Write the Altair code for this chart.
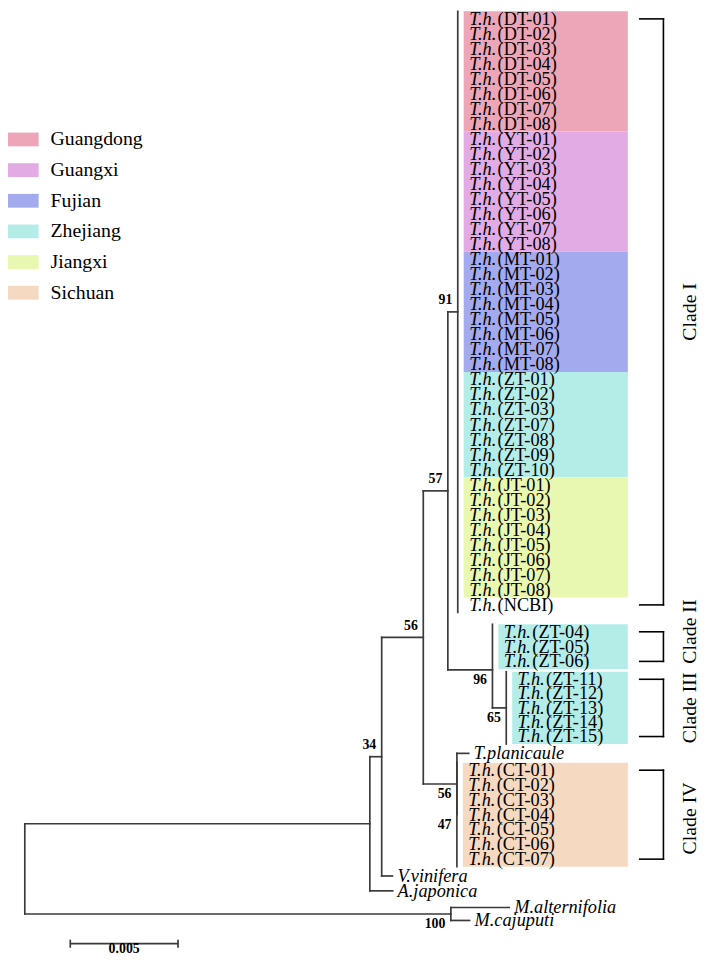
import altair as alt
import pandas as pd

# ---------------- data ----------------
regions = ["Guangdong", "Guangxi", "Fujian", "Zhejiang", "Jiangxi", "Sichuan"]
region_colors = ["#ECA6B8", "#E2ABE4", "#A3AAEE", "#B4ECE8", "#E8F8B0", "#F6D9C1"]

# internal nodes of the tree: parent and branch length (substitutions / site)
node_names = ["root", "N1", "N2", "N3", "N4", "CI", "CII", "CIII", "N5", "CT", "NM"]
node_parents = ["", "root", "N1", "N2", "N3", "N4", "N4", "CII", "N3", "N5", "root"]
node_lengths = [0.0, 0.01601, 0.00055, 0.00193, 0.00114, 0.00046, 0.00207, 0.00064,
                0.00156, 0.0, 0.01977]

# bootstrap support values
boot_nodes = ["CI", "N4", "N3", "N2", "N5", "CT", "CII", "CIII", "NM"]
boot_values = ["91", "57", "56", "34", "56", "47", "96", "65", "100"]
boot_above = [True, True, True, True, False, False, False, False, False]

# leaves (top to bottom)
clade1_codes = (["DT-01", "DT-02", "DT-03", "DT-04", "DT-05", "DT-06", "DT-07", "DT-08"]
                + ["YT-01", "YT-02", "YT-03", "YT-04", "YT-05", "YT-06", "YT-07", "YT-08"]
                + ["MT-01", "MT-02", "MT-03", "MT-04", "MT-05", "MT-06", "MT-07", "MT-08"]
                + ["ZT-01", "ZT-02", "ZT-03", "ZT-07", "ZT-08", "ZT-09", "ZT-10"]
                + ["JT-01", "JT-02", "JT-03", "JT-04", "JT-05", "JT-06", "JT-07", "JT-08"]
                + ["NCBI"])
leaf_names = ([f"T.h.({c})" for c in clade1_codes]
              + ["T.h.(ZT-04)", "T.h.(ZT-05)", "T.h.(ZT-06)"]
              + ["T.h.(ZT-11)", "T.h.(ZT-12)", "T.h.(ZT-13)", "T.h.(ZT-14)", "T.h.(ZT-15)"]
              + ["T.planicaule"]
              + ["T.h.(CT-01)", "T.h.(CT-02)", "T.h.(CT-03)", "T.h.(CT-04)",
                 "T.h.(CT-05)", "T.h.(CT-06)", "T.h.(CT-07)"]
              + ["V.vinifera", "A.japonica", "M.alternifolia", "M.cajuputi"])
leaf_parents = ["CI"] * 40 + ["CII"] * 3 + ["CIII"] * 5 + ["N5"] + ["CT"] * 7 + ["N2", "N1", "NM", "NM"]
leaf_lengths = [0.0] * 48 + [0.00055] + [0.0] * 7 + [0.00050, 0.00106, 0.00271, 0.00087]
leaf_rows = (list(range(40))
             + [40.79, 41.78, 42.76]
             + [43.95, 44.90, 45.86, 46.81, 47.76]
             + [48.88]
             + [50.00, 50.99, 51.97, 52.96, 53.95, 54.93, 55.92]
             + [57.04, 58.03, 59.14, 60.00])

# coloured blocks behind leaf labels
band_regions = ["Guangdong", "Guangxi", "Fujian", "Zhejiang", "Jiangxi", "Zhejiang", "Zhejiang", "Sichuan"]
band_first = ["T.h.(DT-01)", "T.h.(YT-01)", "T.h.(MT-01)", "T.h.(ZT-01)", "T.h.(JT-01)",
              "T.h.(ZT-04)", "T.h.(ZT-11)", "T.h.(CT-01)"]
band_last = ["T.h.(DT-08)", "T.h.(YT-08)", "T.h.(MT-08)", "T.h.(ZT-10)", "T.h.(JT-08)",
             "T.h.(ZT-06)", "T.h.(ZT-15)", "T.h.(CT-07)"]

# clade brackets
clade_labels = ["Clade I", "Clade II", "Clade III", "Clade IV"]
clade_first = ["T.h.(DT-01)", "T.h.(ZT-04)", "T.h.(ZT-11)", "T.h.(CT-01)"]
clade_last = ["T.h.(NCBI)", "T.h.(ZT-06)", "T.h.(ZT-15)", "T.h.(CT-07)"]
clade_label_shift = [0.0, -1.0, 0.0, 0.25]

scale_len = 0.005
scale_text = "0.005"

# ---------------- layout ----------------
W, H = 700, 952
PX = 21800.0      # pixels per substitution unit
ROW = 15.2        # pixels per leaf row
X0 = 17.0         # root position (px)
Y0 = 5.5          # row 0 position (px)
SERIF = "Liberation Serif, Times New Roman, serif"
TREE_COLOR = "#3a3a3a"
LEAF_FS = 18.5


def ux(p):  # plot pixel -> x units
    return (p - X0) / PX


def ur(p):  # plot pixel -> row units
    return (p - Y0) / ROW


xs = alt.Scale(domain=[ux(0), ux(W)], nice=False, zero=False)
ys = alt.Scale(domain=[ur(0), ur(H)], nice=False, zero=False, reverse=True)

# ---------------- tree geometry ----------------
parent = dict(zip(node_names, node_parents))
parent.update(dict(zip(leaf_names, leaf_parents)))
length = dict(zip(node_names, node_lengths))
length.update(dict(zip(leaf_names, leaf_lengths)))
is_leaf = set(leaf_names)

depth = {"root": 0.0}
for n in node_names[1:]:
    depth[n] = depth[parent[n]] + length[n]
for n in leaf_names:
    depth[n] = depth[parent[n]] + length[n]

children = {n: [] for n in node_names}
for n in node_names[1:] + leaf_names:
    children[parent[n]].append(n)

row = dict(zip(leaf_names, leaf_rows))


def get_row(n):
    if n in row:
        return row[n]
    r = [get_row(c) for c in children[n]]
    row[n] = (min(r) + max(r)) / 2
    return row[n]


get_row("root")

segs = []
for n in node_names[1:] + leaf_names:
    if length[n] > 0:
        segs.append(dict(x=depth[parent[n]], x2=depth[n], y=row[n], y2=row[n]))
for n in node_names:
    rr = []
    for c in children[n]:
        if c in is_leaf and length[c] == 0:
            rr += [row[c] - 0.5, row[c] + 0.5]
        else:
            rr.append(row[c])
    segs.append(dict(x=depth[n], x2=depth[n], y=min(rr), y2=max(rr)))
seg_df = pd.DataFrame(segs)

# leaf labels
lab = []
for n in leaf_names:
    off = 11.5 if length[n] == 0 else 5.0
    x = depth[n] + off / PX
    if "(" in n:
        pre, suf = n.split("(", 1)
        suf = "(" + suf
    else:
        pre, suf = n, ""
    lab.append(dict(x=x, xs=x + 28.8 / PX, y=row[n], pre=pre, suf=suf))
lab_df = pd.DataFrame(lab)

# bands
order = {n: i for i, n in enumerate(leaf_names)}
bands = []
for reg, a, b in zip(band_regions, band_first, band_last):
    ia, ib = order[a], order[b]
    top = row[a] - (min(0.5, (row[a] - row[leaf_names[ia - 1]]) / 2) if ia > 0 else 0.5)
    bot = row[b] + (min(0.5, (row[leaf_names[ib + 1]] - row[b]) / 2) if ib + 1 < len(leaf_names) else 0.5)
    bands.append(dict(x=depth[parent[a]] + 6.0 / PX, x2=ux(627), y=top, y2=bot, region=reg))
band_df = pd.DataFrame(bands)

# bootstrap labels
boot_df = pd.DataFrame([
    dict(x=depth[n] - 5.5 / PX, y=row[n] + (-12.0 if up else 10.0) / ROW, t=v)
    for n, v, up in zip(boot_nodes, boot_values, boot_above)
])

# clade brackets
br = []
cl = []
for name, a, b, sh in zip(clade_labels, clade_first, clade_last, clade_label_shift):
    br.append(dict(x=ux(639), x2=ux(663), y=row[a], y2=row[a]))
    br.append(dict(x=ux(639), x2=ux(663), y=row[b], y2=row[b]))
    br.append(dict(x=ux(663), x2=ux(663), y=row[a], y2=row[b]))
    cl.append(dict(x=ux(690), y=(row[a] + row[b]) / 2 + sh, t=name))
br_df = pd.DataFrame(br)
cl_df = pd.DataFrame(cl)

# scale bar
sb_x0 = ux(63)
sb_row = ur(941)
sb_df = pd.DataFrame([
    dict(x=sb_x0, x2=sb_x0 + scale_len, y=sb_row, y2=sb_row),
    dict(x=sb_x0, x2=sb_x0, y=sb_row - 0.27, y2=sb_row + 0.27),
    dict(x=sb_x0 + scale_len, x2=sb_x0 + scale_len, y=sb_row - 0.27, y2=sb_row + 0.27),
])
sbl_df = pd.DataFrame([dict(x=sb_x0 + scale_len / 2, y=ur(946.5), t=scale_text)])

# ---------------- chart ----------------
X = lambda f="x": alt.X(f"{f}:Q", scale=xs, axis=None)
Y = lambda f="y": alt.Y(f"{f}:Q", scale=ys, axis=None)

band_layer = alt.Chart(band_df).mark_rect(strokeWidth=0).encode(
    x=X(), x2="x2:Q", y=Y(), y2="y2:Q",
    color=alt.Color("region:N",
                    scale=alt.Scale(domain=regions, range=region_colors),
                    legend=alt.Legend(orient="none", legendX=0, legendY=112, title=None,
                                      symbolType="M-1,-0.45L1,-0.45L1,0.45L-1,0.45Z",
                                      symbolSize=961, symbolStrokeWidth=0, symbolOpacity=1,
                                      labelFont=SERIF, labelFontSize=20, labelColor="black",
                                      labelOffset=12, rowPadding=5, padding=0, labelLimit=300)),
)

tree_layer = alt.Chart(seg_df).mark_rule(color=TREE_COLOR, strokeWidth=1.7, strokeCap="square").encode(
    x=X(), x2="x2:Q", y=Y(), y2="y2:Q")

bracket_layer = alt.Chart(br_df).mark_rule(color="black", strokeWidth=1.6, strokeCap="square").encode(
    x=X(), x2="x2:Q", y=Y(), y2="y2:Q")

sb_layer = alt.Chart(sb_df).mark_rule(color=TREE_COLOR, strokeWidth=1.7).encode(
    x=X(), x2="x2:Q", y=Y(), y2="y2:Q")

pre_layer = alt.Chart(lab_df).mark_text(align="left", baseline="middle", font=SERIF, fontSize=LEAF_FS,
                                        fontStyle="italic", color="black").encode(
    x=X(), y=Y(), text="pre:N")

suf_layer = alt.Chart(lab_df[lab_df["suf"] != ""]).mark_text(align="left", baseline="middle", font=SERIF,
                                                             fontSize=LEAF_FS, color="black").encode(
    x=X("xs"), y=Y(), text="suf:N")

boot_layer = alt.Chart(boot_df).mark_text(align="right", baseline="middle", font=SERIF, fontSize=14,
                                          fontWeight="bold", color="black").encode(
    x=X(), y=Y(), text="t:N")

clade_layer = alt.Chart(cl_df).mark_text(align="center", baseline="middle", font=SERIF, fontSize=20,
                                         angle=270, color="black").encode(
    x=X(), y=Y(), text="t:N")

sbl_layer = alt.Chart(sbl_df).mark_text(align="center", baseline="middle", font=SERIF, fontSize=14,
                                        fontWeight="bold", color="black").encode(
    x=X(), y=Y(), text="t:N")

chart = alt.layer(band_layer, tree_layer, bracket_layer, sb_layer, pre_layer, suf_layer,
                  boot_layer, clade_layer, sbl_layer).properties(
    width=W, height=H, autosize=alt.AutoSizeParams(type="none"), padding=0,
    background="white",
).configure_view(stroke=None)

chart.save("out.html", embed_options={"renderer": "svg", "actions": False})
